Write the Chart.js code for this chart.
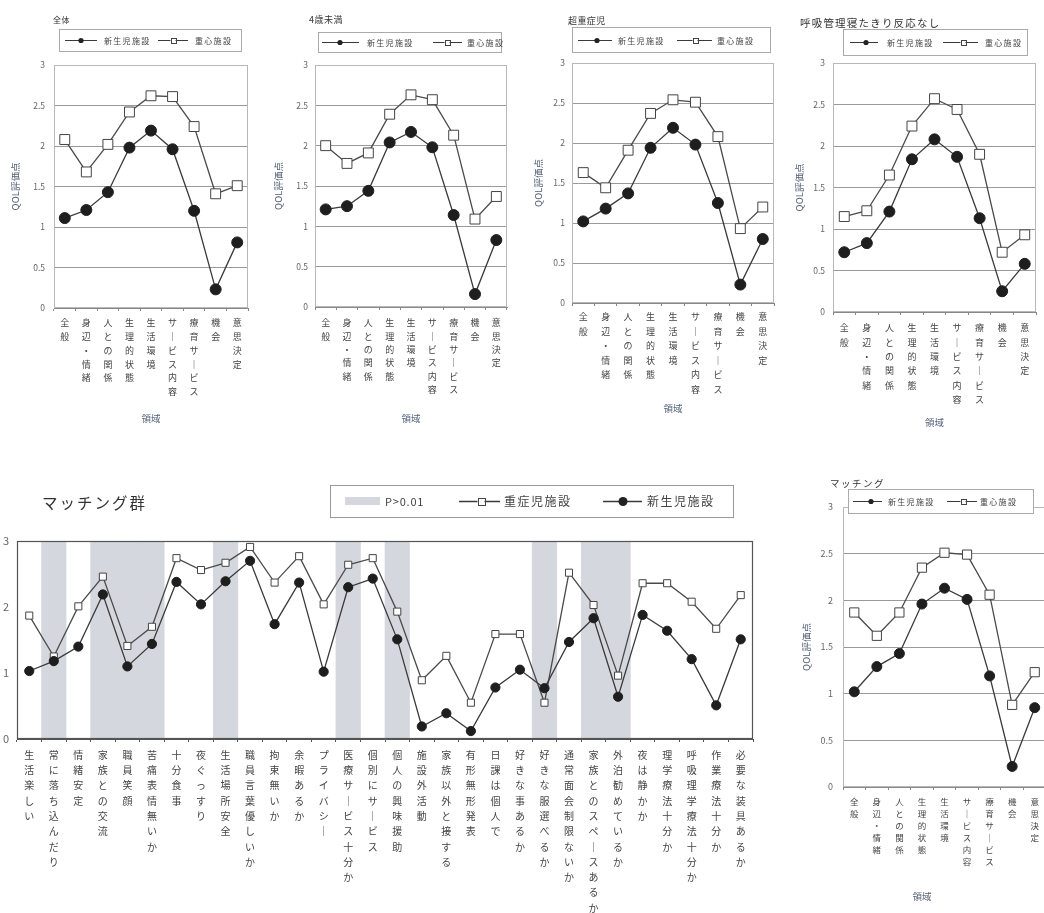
<!DOCTYPE html>
<html><head><meta charset="utf-8">
<script src="https://cdn.jsdelivr.net/npm/chart.js@4"></script>
<style>
html,body{margin:0;padding:0;background:#fff;overflow:hidden;width:1044px;height:913px;position:relative;}
canvas{position:absolute;}
</style></head><body>
<canvas id="c1"></canvas><canvas id="c2"></canvas><canvas id="c3"></canvas><canvas id="c4"></canvas><canvas id="c5"></canvas><canvas id="c6"></canvas>
<script>
// ---------- data ----------
const domainCats = ['全般','身辺・情緒','人との関係','生理的状態','生活環境','サービス内容','療育サービス','機会','意思決定'];
const allNew       = [1.11,1.21,1.43,1.98,2.19,1.96,1.20,0.23,0.81];
const allJushin    = [2.08,1.68,2.02,2.42,2.62,2.61,2.24,1.41,1.51];
const under4New    = [1.21,1.25,1.44,2.04,2.17,1.98,1.14,0.16,0.83];
const under4Jushin = [2.00,1.78,1.91,2.39,2.63,2.57,2.13,1.09,1.37];
const severeNew    = [1.02,1.18,1.37,1.94,2.19,1.98,1.25,0.23,0.80];
const severeJushin = [1.63,1.44,1.91,2.37,2.54,2.51,2.08,0.93,1.20];
const respNew      = [0.72,0.83,1.21,1.84,2.08,1.87,1.13,0.25,0.58];
const respJushin   = [1.15,1.22,1.65,2.24,2.57,2.44,1.90,0.72,0.93];
const matchNew     = [1.02,1.29,1.43,1.96,2.13,2.01,1.19,0.22,0.85];
const matchJushin  = [1.87,1.62,1.87,2.35,2.51,2.49,2.06,0.88,1.23];

const itemCats = ['生活楽しい','常に落ち込んだり','情緒安定','家族との交流','職員笑顔','苦痛表情無いか','十分食事','夜ぐっすり','生活場所安全','職員言葉優しいか','拘束無いか','余暇あるか','プライバシー','医療サービス十分か','個別にサービス','個人の興味援助','施設外活動','家族以外と接する','有形無形発表','日課は個人で','好きな事あるか','好きな服選べるか','通常面会制限ないか','家族とのスペースあるか','外泊勧めているか','夜は静かか','理学療法十分か','呼吸理学療法十分か','作業療法十分か','必要な装具あるか'];
const itemNew    = [1.03,1.18,1.40,2.19,1.10,1.44,2.38,2.04,2.39,2.70,1.74,2.37,1.02,2.30,2.43,1.51,0.19,0.39,0.12,0.78,1.05,0.77,1.47,1.83,0.64,1.88,1.64,1.21,0.51,1.51];
const itemJushin = [1.87,1.25,2.01,2.46,1.41,1.70,2.74,2.56,2.67,2.91,2.37,2.77,2.04,2.64,2.74,1.93,0.89,1.26,0.55,1.59,1.59,0.55,2.52,2.03,0.96,2.36,2.36,2.08,1.67,2.18];
const itemShade  = [0,1,0,1,1,1,0,0,1,0,0,0,0,1,0,1,0,0,0,0,0,1,0,1,1,0,0,0,0,0];

const topYTicks = 0.5;   // step of top charts
const itemYTicks = 1;    // step of item chart

// ---------- helpers ----------
const FONT = '"Noto Sans CJK JP", "Noto Sans", sans-serif';
const AX = '#56627a';
function vert(s){ return Array.from(s).map(ch => ch === 'ー' ? '｜' : ch); }

function frame(chart, color, lw){
  const ctx = chart.ctx, a = chart.chartArea;
  ctx.save(); ctx.strokeStyle = color; ctx.lineWidth = lw;
  ctx.strokeRect(Math.round(a.left)+0.5, Math.round(a.top)+0.5, Math.round(a.right-a.left)-1, Math.round(a.bottom-a.top)-1);
  ctx.restore();
}
function drawLegend(ctx, L){
  ctx.save();
  ctx.fillStyle = '#fff'; ctx.fillRect(L.x, L.y, L.w, L.h);
  ctx.strokeStyle = L.border; ctx.lineWidth = 1;
  ctx.strokeRect(Math.round(L.x)+0.5, Math.round(L.y)+0.5, Math.round(L.w), Math.round(L.h));
  const cy = Math.round(L.y + L.h/2);
  for (const it of L.items){
    if (it.kind === 'rect'){
      ctx.fillStyle = it.color; ctx.fillRect(it.x1, cy - it.hh, it.x2 - it.x1, it.hh*2);
    } else {
      ctx.strokeStyle = '#3a3a3a'; ctx.lineWidth = it.lw || 1;
      ctx.beginPath(); ctx.moveTo(it.x1, cy+0.5); ctx.lineTo(it.x2, cy+0.5); ctx.stroke();
      if (it.marker === 'dot'){
        ctx.fillStyle = '#222'; ctx.beginPath(); ctx.arc(it.mx, cy+0.5, it.r, 0, Math.PI*2); ctx.fill();
      } else {
        ctx.fillStyle = '#fff'; ctx.lineWidth = 1; ctx.strokeStyle = '#444';
        ctx.fillRect(it.mx - it.r, cy+0.5 - it.r, it.r*2, it.r*2);
        ctx.strokeRect(Math.round(it.mx - it.r)+0.5, Math.round(cy - it.r)+0.5, Math.round(it.r*2), Math.round(it.r*2));
      }
    }
    ctx.fillStyle = '#444'; ctx.font = it.size + 'px ' + FONT;
    if ('letterSpacing' in ctx) ctx.letterSpacing = (it.sp || 0) + 'px';
    ctx.textBaseline = 'middle'; ctx.textAlign = 'left';
    ctx.fillText(it.text, it.tx, cy + 0.5);
  }
  ctx.restore();
}
const decor = {
  id: 'decor',
  afterDraw(chart, args, o){
    const ctx = chart.ctx;
    if (o.frameColor) frame(chart, o.frameColor, o.frameWidth || 1);
    for (const t of (o.texts || [])){
      ctx.save();
      ctx.font = t.size + 'px ' + FONT; ctx.fillStyle = t.color || '#333';
      if ('letterSpacing' in ctx) ctx.letterSpacing = (t.sp || 0) + 'px';
      ctx.textBaseline = 'middle'; ctx.textAlign = t.align || 'left';
      ctx.fillText(t.text, t.x, t.y);
      ctx.restore();
    }
    if (o.legend) drawLegend(ctx, o.legend);
  }
};
Chart.register(decor);

function topLegend(box, l1a, l1b, m1, t1, l2a, l2b, m2, t2, name2){
  return {x:box[0], y:box[1], w:box[2], h:box[3], border:'#aaa', items:[
    {kind:'line', x1:l1a, x2:l1b, mx:m1, marker:'dot', r:2.6, text:'新生児施設', tx:t1, size:8, sp:1.3},
    {kind:'line', x1:l2a, x2:l2b, mx:m2, marker:'square', r:2.5, text:name2 || '重心施設', tx:t2, size:8, sp:1.3}
  ]};
}

function makeChart(id, S){
  const C = S.canvas, P = S.plot, ox = C.x, oy = C.y;
  const el = document.getElementById(id);
  el.width = C.w; el.height = C.h;
  el.style.left = ox + 'px'; el.style.top = oy + 'px';
  const sh = v => v - ox, sv = v => v - oy;
  const labelLH = S.labelLH, labelSize = S.labelSize;
  const tickLen = 3;
  const yTitleLH = S.yTitle ? S.yTitle.size * 1.2 : 0;
  const xTitleLH = S.xTitle ? S.xTitle.size * 1.2 : 0;

  let legend = null;
  if (S.legend){
    legend = Object.assign({}, S.legend, {x: sh(S.legend.x), y: sv(S.legend.y)});
    legend.items = S.legend.items.map(it => Object.assign({}, it, {x1: sh(it.x1), x2: sh(it.x2), mx: it.mx !== undefined ? sh(it.mx) : undefined, tx: sh(it.tx)}));
  }
  const texts = (S.texts || []).map(t => Object.assign({}, t, {x: sh(t.x), y: sv(t.y)}));

  const datasets = S.datasets;
  new Chart(el, {
    type: 'line',
    data: { labels: S.labels.map(vert), datasets },
    options: {
      responsive: false, animation: false, devicePixelRatio: 1,
      events: [],
      layout: { padding: { top: P.t - oy, right: (ox + C.w) - P.r, left: 0, bottom: 0 } },
      plugins: {
        legend: { display: false }, tooltip: { enabled: false }, title: { display: false },
        decor: { frameColor: S.frameColor, frameWidth: S.frameWidth, texts, legend }
      },
      scales: {
        x: {
          type: 'category', offset: true,
          grid: { offset: true, drawOnChartArea: false, drawTicks: true, tickLength: tickLen, color: S.axisColor },
          border: { color: S.axisColor, width: 1 },
          ticks: {
            autoSkip: false, maxRotation: 0, minRotation: 0, color: '#444',
            font: { family: FONT, size: labelSize, lineHeight: labelLH / labelSize },
            padding: S.labelFirstY - P.b - tickLen - labelLH / 2
          },
          title: S.xTitle ? {
            display: true, text: S.xTitle.text, color: AX,
            font: { family: FONT, size: S.xTitle.size, lineHeight: 1.2 },
            padding: { top: 0, bottom: (oy + C.h) - S.xTitle.y - xTitleLH / 2 }
          } : { display: false },
          afterFit: s => { s.height = (oy + C.h) - P.b; }
        },
        y: {
          min: 0, max: 3,
          grid: { display: S.yGrid, drawOnChartArea: S.yGrid, drawTicks: false, color: S.gridColor, lineWidth: 1 },
          border: { color: S.axisColor, width: 1 },
          ticks: {
            stepSize: S.yStep, color: '#666', padding: P.l - S.yTickRight,
            font: { family: FONT, size: S.tickSize },
            callback: v => String(+Number(v).toFixed(2))
          },
          title: S.yTitle ? {
            display: true, text: S.yTitle.text, color: AX,
            font: { family: FONT, size: S.yTitle.size, lineHeight: 1.2 },
            padding: { top: S.yTitle.x - ox - yTitleLH / 2, bottom: 0 }
          } : { display: false },
          afterFit: s => { s.width = P.l - ox; }
        }
      }
    }
  });
}

function pairSets(newArr, jArr, dotR, sqR, jName){
  return [
    { label: '新生児施設', data: newArr, borderColor: '#3a3a3a', borderWidth: 1.3, tension: 0,
      pointStyle: 'circle', pointRadius: dotR, pointBackgroundColor: '#1e1e1e', pointBorderColor: '#1e1e1e', pointBorderWidth: 1, order: 1 },
    { label: jName || '重心施設', data: jArr, borderColor: '#4a4a4a', borderWidth: 1.3, tension: 0,
      pointStyle: 'rect', pointRadius: sqR, pointBackgroundColor: '#fff', pointBorderColor: '#444', pointBorderWidth: 1, order: 2 }
  ];
}

const topCommon = { yStep: topYTicks, yGrid: true, gridColor: '#9a9a9a', axisColor: '#888', frameColor: '#b8b8b8',
  labelSize: 9, tickSize: 8.5 };

makeChart('c1', Object.assign({}, topCommon, {
  canvas: {x:0, y:0, w:262, h:430}, plot: {l:54, t:65, r:248, b:308},
  labels: domainCats, datasets: pairSets(allNew, allJushin, 5.5, 7),
  yTickRight: 45, labelFirstY: 323, labelLH: 13.7,
  yTitle: {text:'QOL評価点', x:15, size:9.5}, xTitle: {text:'領域', y:418, size:9.5},
  texts: [{text:'全体', x:53, y:20, size:8, sp:0.5}],
  legend: topLegend([59,29,182,22], 65,97,81,104, 158,188,173,195)
}));
makeChart('c2', Object.assign({}, topCommon, {
  canvas: {x:262, y:0, w:258, h:430}, plot: {l:315, t:65, r:507, b:307},
  labels: domainCats, datasets: pairSets(under4New, under4Jushin, 5.5, 7),
  yTickRight: 308, labelFirstY: 323, labelLH: 13.3,
  yTitle: {text:'QOL評価点', x:278, size:9.5}, xTitle: {text:'領域', y:418, size:9.5},
  texts: [{text:'4歳未満', x:309, y:20, size:9, sp:0.5}],
  legend: topLegend([318,32,183,20], 322,359,340,367, 433,462,447,467)
}));
makeChart('c3', Object.assign({}, topCommon, {
  canvas: {x:520, y:0, w:262, h:430}, plot: {l:572, t:63, r:774, b:303},
  labels: domainCats, datasets: pairSets(severeNew, severeJushin, 5.5, 7),
  yTickRight: 565, labelFirstY: 317, labelLH: 14.5,
  yTitle: {text:'QOL評価点', x:538, size:9.5}, xTitle: {text:'領域', y:408, size:9.5},
  texts: [{text:'超重症児', x:568, y:21, size:9, sp:0.4}],
  legend: topLegend([572,27,198,25], 578,612,597,618, 677,712,695,717)
}));
makeChart('c4', Object.assign({}, topCommon, {
  canvas: {x:782, y:0, w:262, h:440}, plot: {l:833, t:63, r:1036, b:312},
  labels: domainCats, datasets: pairSets(respNew, respJushin, 5.5, 7),
  yTickRight: 825, labelFirstY: 328, labelLH: 14.3,
  yTitle: {text:'QOL評価点', x:799, size:9.5}, xTitle: {text:'領域', y:422, size:9.5},
  texts: [{text:'呼吸管理寝たきり反応なし', x:800, y:23, size:10.5, sp:1.2}],
  legend: topLegend([843,29,184,26], 850,878,866,887, 943,978,963,985)
}));

// bottom-left: item chart with shaded bands
const itemSets = pairSets(itemNew, itemJushin, 4.6, 5, '重症児施設');
itemSets.push({ type: 'bar', label: 'P>0.01', data: itemShade.map(f => f ? 3 : null),
  backgroundColor: '#d4d7dd', borderWidth: 0, barPercentage: 1, categoryPercentage: 1, order: 10 });
makeChart('c5', {
  canvas: {x:-6, y:470, w:770, h:443}, plot: {l:17, t:541, r:753, b:739},
  labels: itemCats, datasets: itemSets,
  yStep: itemYTicks, yGrid: false, gridColor: '#999', axisColor: '#555', frameColor: '#555', frameWidth: 1.2,
  labelSize: 10, tickSize: 11, yTickRight: 9, labelFirstY: 755, labelLH: 15.3,
  texts: [{text:'マッチング群', x:42, y:503, size:15.5, sp:2, color:'#333'}],
  legend: {x:330, y:485, w:403, h:32, border:'#999', items:[
    {kind:'rect', x1:345, x2:380, hh:4, color:'#d4d7dd', text:'P>0.01', tx:385, size:11, sp:0.8},
    {kind:'line', x1:459, x2:500, mx:481, marker:'square', r:3.5, lw:1.3, text:'重症児施設', tx:504, size:12, sp:1.5},
    {kind:'line', x1:603, x2:642, mx:623, marker:'dot', r:4.5, lw:1.3, text:'新生児施設', tx:647, size:12, sp:1.5}
  ]}
});

// bottom-right: matching domains
makeChart('c6', Object.assign({}, topCommon, {
  canvas: {x:770, y:470, w:285, h:443}, plot: {l:843, t:507, r:1046, b:787},
  labels: domainCats, datasets: pairSets(matchNew, matchJushin, 5, 6.5),
  labelSize: 8.5, tickSize: 9,
  yTickRight: 833, labelFirstY: 801.7, labelLH: 12,
  yTitle: {text:'QOL評価点', x:806, size:9.5},
  texts: [{text:'マッチング', x:830, y:483, size:9.5, sp:1.5},
          {text:'領域', x:922, y:896, size:9.5, color:AX, align:'center'}],
  legend: topLegend([848,489,185,24], 853,882,871,888, 947,977,963,980)
}));
</script>
</body></html>
